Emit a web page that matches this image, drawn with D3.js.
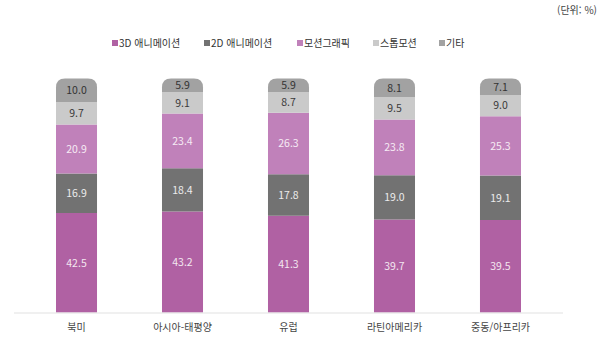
<!DOCTYPE html>
<html lang="ko">
<head>
<meta charset="utf-8">
<script src="https://cdn.jsdelivr.net/npm/d3@7/dist/d3.min.js"></script>
<style>
  html, body { margin: 0; padding: 0; background: #ffffff; }
  svg { display: block; font-family: "Noto Sans CJK KR", "Noto Sans", sans-serif; }
</style>
</head>
<body>
<svg id="chart" width="602" height="339"></svg>
<script>
// Regions (x axis)
const regions = ["북미", "아시아-태평양", "유럽", "라틴아메리카", "중동/아프리카"];

// Series, stacked bottom to top
const seriesNames = ["3D 애니메이션", "2D 애니메이션", "모션그래픽", "스톱모션", "기타"];
const anim3D   = [42.5, 43.2, 41.3, 39.7, 39.5];
const anim2D   = [16.9, 18.4, 17.8, 19.0, 19.1];
const motion   = [20.9, 23.4, 26.3, 23.8, 25.3];
const stopMo   = [9.7, 9.1, 8.7, 9.5, 9.0];
const etc      = [10.0, 5.9, 5.9, 8.1, 7.1];
const seriesValues = [anim3D, anim2D, motion, stopMo, etc];

const colors    = ["#b061a3", "#727272", "#c081ba", "#cacaca", "#a2a2a2"];
const textColor = ["#f3e6f0", "#ececec", "#f6eaf4", "#3a3a3a", "#333333"];

const svg = d3.select("#chart");

const x = d3.scaleBand()
  .domain(regions)
  .range([56, 521])
  .paddingInner(0.613)
  .paddingOuter(0);

const y = d3.scaleLinear().domain([0, 100]).range([312.5, 78.5]);

// Stack table built from the series arrays
const table = regions.map((r, i) => {
  const row = { region: r };
  seriesNames.forEach((s, k) => { row[s] = seriesValues[k][i]; });
  return row;
});
const stacked = d3.stack().keys(seriesNames)(table);

// Top segment gets rounded upper corners
function topRounded(x0, y0, w, h, r) {
  r = Math.min(r, h, w / 2);
  return `M${x0},${y0 + h}V${y0 + r}Q${x0},${y0} ${x0 + r},${y0}` +
         `H${x0 + w - r}Q${x0 + w},${y0} ${x0 + w},${y0 + r}V${y0 + h}Z`;
}

const layers = svg.append("g").selectAll("g")
  .data(stacked)
  .join("g")
  .attr("fill", (d, k) => colors[k]);

layers.selectAll("path")
  .data(d => d.map(p => ({ p, region: p.data.region })))
  .join("path")
  .attr("d", function (d) {
    const k = d3.select(this.parentNode).datum().index;
    const x0 = x(d.region), w = x.bandwidth();
    const yTop = y(Math.min(100, d.p[1])), yBot = y(d.p[0]);
    if (k === seriesNames.length - 1) return topRounded(x0, yTop, w, yBot - yTop, 9);
    return `M${x0},${yTop}H${x0 + w}V${yBot}H${x0}Z`;
  });

// Value labels
layers.selectAll("text")
  .data((d, k) => d.map(p => ({ p, k, region: p.data.region, v: p.data[d.key] })))
  .join("text")
  .attr("x", d => x(d.region) + x.bandwidth() / 2)
  .attr("y", d => (y(Math.min(100, d.p[0])) + y(Math.min(100, d.p[1]))) / 2)
  .attr("dy", "0.36em")
  .attr("text-anchor", "middle")
  .attr("font-size", 10.5)
  .attr("fill", d => textColor[d.k])
  .text(d => d.v.toFixed(1));

// Baseline
svg.append("line")
  .attr("x1", 14).attr("x2", 563)
  .attr("y1", y(0) + 0.5).attr("y2", y(0) + 0.5)
  .attr("stroke", "#e2e2e2").attr("stroke-width", 1.2);

// Category axis
const xAxis = svg.append("g")
  .attr("transform", `translate(0,${y(0) + 1})`)
  .call(d3.axisBottom(x).tickSize(0).tickPadding(10));
xAxis.select(".domain").remove();
xAxis.selectAll("text")
  .attr("font-size", 10)
  .attr("font-family", "'Noto Sans CJK KR', sans-serif")
  .attr("fill", "#444");

// Legend
const legendX = [112, 204, 297, 373, 439];
const legend = svg.append("g").selectAll("g")
  .data(seriesNames)
  .join("g")
  .attr("transform", (d, k) => `translate(${legendX[k]},43)`);
legend.append("rect")
  .attr("x", 0).attr("y", -3).attr("width", 6).attr("height", 6)
  .attr("fill", (d, k) => colors[k]);
legend.append("text")
  .attr("x", 7).attr("y", 0).attr("dy", "0.35em")
  .attr("font-size", 10)
  .attr("fill", "#333")
  .text(d => d);

// Unit note
svg.append("text")
  .attr("x", 597).attr("y", 10).attr("dy", "0.35em")
  .attr("text-anchor", "end")
  .attr("font-size", 10)
  .attr("fill", "#444")
  .text("(단위: %)");
</script>
</body>
</html>
